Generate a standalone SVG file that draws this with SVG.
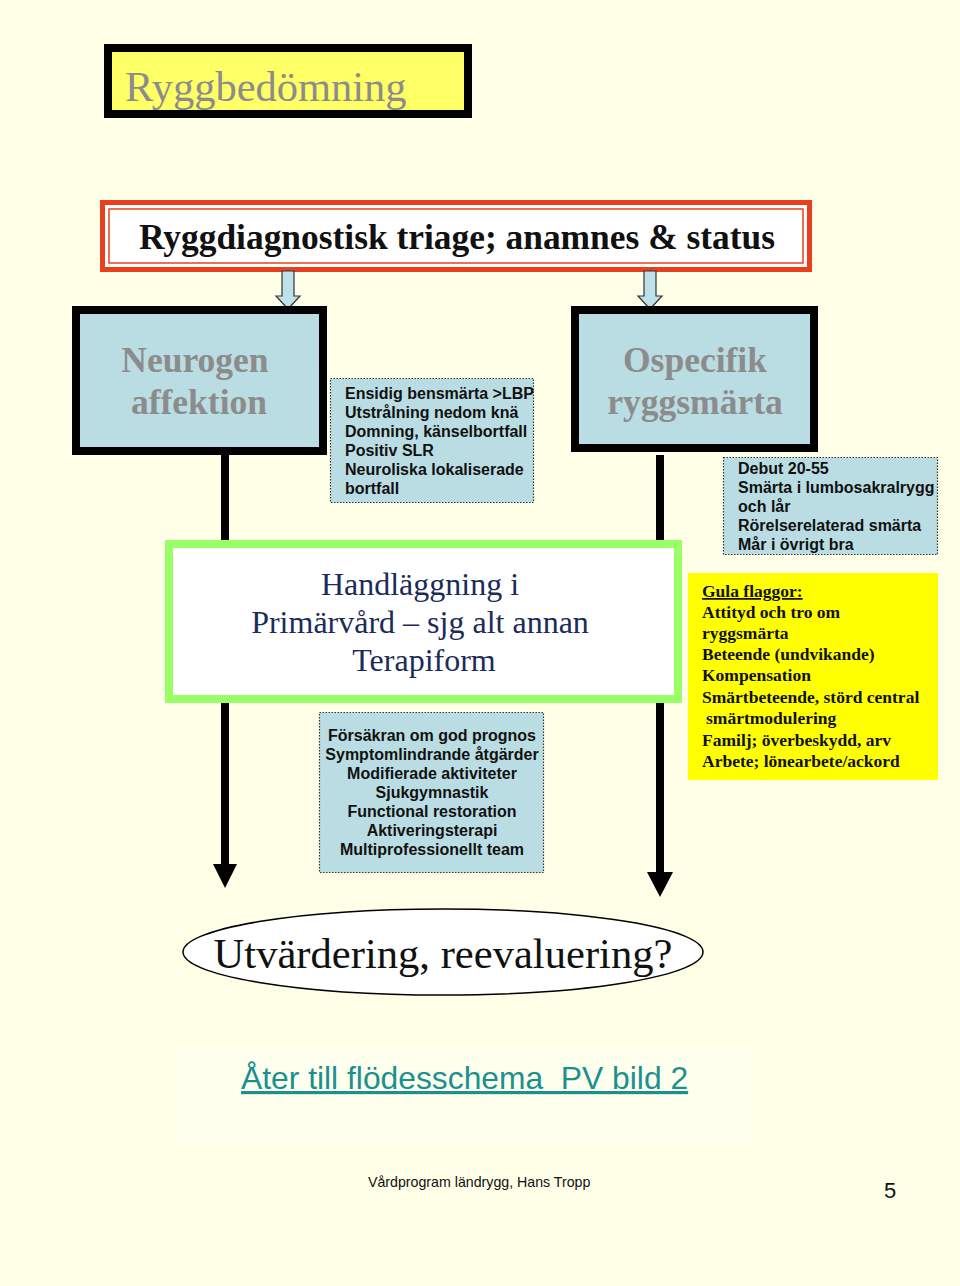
<svg xmlns="http://www.w3.org/2000/svg" width="960" height="1286" viewBox="0 0 960 1286">
<style>
.serif{font-family:"Liberation Serif","Times New Roman",serif}
.sans{font-family:"Liberation Sans",Arial,sans-serif}
.det{font-family:"Liberation Sans",Arial,sans-serif;font-weight:bold;font-size:16px;fill:#111}
.detbox{fill:#BADDE3;stroke:#333;stroke-width:1.2;stroke-dasharray:1.5 1.5}
.big{font-family:"Liberation Serif","Times New Roman",serif;font-weight:bold;font-size:35.5px;fill:#8C8C8C;text-anchor:middle}
.yel{font-family:"Liberation Serif","Times New Roman",serif;font-weight:bold;font-size:17.5px;fill:#111}
.smallarrow{fill:#BEE0E8;stroke:#333;stroke-width:1.2}
</style>
<rect x="0" y="0" width="960" height="1286" fill="#FFFFE8"/>

<g id="title">
<rect x="108" y="48" width="360" height="66" fill="#FFFF66" stroke="#000" stroke-width="8"/>
<text x="125" y="101" class="serif" font-size="42.5" fill="#8C8C8C">Ryggbedömning</text>
</g>

<g id="triage">
<rect x="102.5" y="202.5" width="707" height="67" fill="#fff" stroke="#E8401C" stroke-width="5"/>
<rect x="109" y="209" width="694" height="54" fill="none" stroke="#E8401C" stroke-width="1.5"/>
<text x="457" y="249" class="serif" font-weight="bold" font-size="35" text-anchor="middle" fill="#111" textLength="636" lengthAdjust="spacingAndGlyphs">Ryggdiagnostisk triage; anamnes &amp; status</text>
</g>

<g id="connectors">
<path class="smallarrow" d="M282 271 H294 V296 H300 L288 309 L276 296 H282 Z"/>
<path class="smallarrow" d="M644 271 H656 V296 H662 L650 309 L638 296 H644 Z"/>
<line x1="225" y1="455" x2="225" y2="866" stroke="#000" stroke-width="8"/>
<polygon points="213,864 237,864 225,888" fill="#000"/>
<line x1="660" y1="455" x2="660" y2="874" stroke="#000" stroke-width="8"/>
<polygon points="647,872 673,872 660,897" fill="#000"/>
</g>

<g id="neurogen">
<rect x="76" y="310" width="247" height="141" fill="#BADDE3" stroke="#000" stroke-width="8"/>
<text x="195" y="372" class="big">Neurogen</text>
<text x="199" y="414" class="big">affektion</text>
</g>

<g id="neurogen-details">
<rect x="330.5" y="378.5" width="203" height="124" class="detbox"/>
<text class="det"><tspan x="345" y="399">Ensidig bensmärta &gt;LBP</tspan><tspan x="345" y="418">Utstrålning nedom knä</tspan><tspan x="345" y="437">Domning, känselbortfall</tspan><tspan x="345" y="456">Positiv SLR</tspan><tspan x="345" y="475">Neuroliska lokaliserade</tspan><tspan x="345" y="494">bortfall</tspan></text>
</g>

<g id="ospecifik">
<rect x="575" y="310" width="239" height="138" fill="#BADDE3" stroke="#000" stroke-width="8"/>
<text x="695" y="372" class="big">Ospecifik</text>
<text x="695" y="414" class="big">ryggsmärta</text>
</g>

<g id="ospecifik-details">
<rect x="723.5" y="457.5" width="214" height="97" class="detbox"/>
<text class="det"><tspan x="738" y="474">Debut 20-55</tspan><tspan x="738" y="493">Smärta i lumbosakralrygg</tspan><tspan x="738" y="512">och lår</tspan><tspan x="738" y="531">Rörelserelaterad smärta</tspan><tspan x="738" y="550">Mår i övrigt bra</tspan></text>
</g>

<g id="handlaggning">
<rect x="169" y="544" width="509" height="155" fill="#fff" stroke="#99FF66" stroke-width="8"/>
<text class="serif" font-size="32" fill="#1C2B5A" text-anchor="middle"><tspan x="420" y="595">Handläggning i</tspan><tspan x="420" y="633">Primärvård – sjg alt annan</tspan><tspan x="424" y="671">Terapiform</tspan></text>
</g>

<g id="gula-flaggor">
<rect x="688" y="573" width="250" height="207" fill="#FFFF00"/>
<text class="yel"><tspan x="702" y="597" text-decoration="underline">Gula flaggor:</tspan><tspan x="702" y="618">Attityd och tro om</tspan><tspan x="702" y="639">ryggsmärta</tspan><tspan x="702" y="660">Beteende (undvikande)</tspan><tspan x="702" y="681">Kompensation</tspan><tspan x="702" y="703">Smärtbeteende, störd central</tspan><tspan x="706" y="724">smärtmodulering</tspan><tspan x="702" y="746">Familj; överbeskydd, arv</tspan><tspan x="702" y="767">Arbete; lönearbete/ackord</tspan></text>
</g>

<g id="atgarder">
<rect x="319.5" y="712.5" width="224" height="160" class="detbox"/>
<text class="det" text-anchor="middle"><tspan x="432" y="741">Försäkran om god prognos</tspan><tspan x="432" y="760">Symptomlindrande åtgärder</tspan><tspan x="432" y="779">Modifierade aktiviteter</tspan><tspan x="432" y="798">Sjukgymnastik</tspan><tspan x="432" y="817">Functional restoration</tspan><tspan x="432" y="836">Aktiveringsterapi</tspan><tspan x="432" y="855">Multiprofessionellt team</tspan></text>
</g>

<g id="utvardering">
<ellipse cx="443" cy="952" rx="260" ry="43" fill="#fff" stroke="#000" stroke-width="1.5"/>
<text x="443" y="968" class="serif" font-size="42.6" fill="#111" text-anchor="middle">Utvärdering, reevaluering?</text>
</g>

<g id="link">
<rect x="178" y="1045" width="572" height="100" fill="#FFFFEE"/>
<text x="241" y="1089" class="sans" font-size="31.8" fill="#1A9090" text-decoration="underline" xml:space="preserve" style="white-space:pre">Åter till flödesschema  PV bild 2</text>
</g>

<g id="footer">
<text x="368" y="1187" class="sans" font-size="14.2" fill="#111">Vårdprogram ländrygg, Hans Tropp</text>
<text x="884" y="1198" class="sans" font-size="22" fill="#111">5</text>
</g>
</svg>
